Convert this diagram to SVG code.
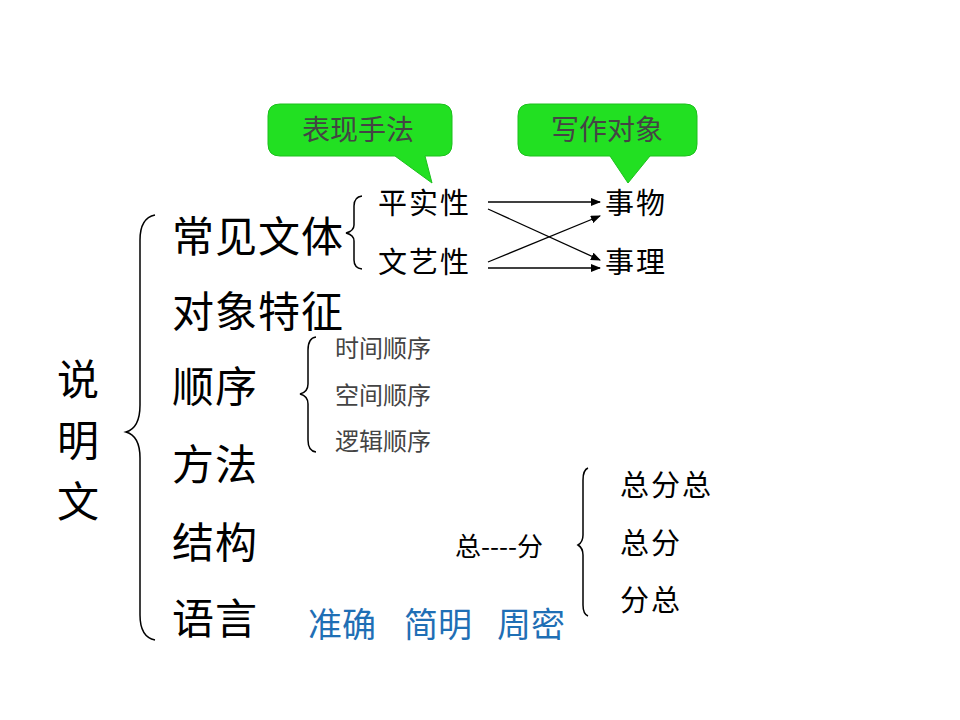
<svg xmlns="http://www.w3.org/2000/svg" width="960" height="720" viewBox="0 0 960 720">
<defs>
<style>
text{font-family:"Noto Sans CJK SC","Liberation Sans",sans-serif;fill:#000}
.big{font-size:42px;letter-spacing:1px}
.mid{font-size:29px;letter-spacing:2px}
.gray{font-size:24px;fill:#444;font-family:"Noto Sans CJK SC",serif}
.call{font-size:28px;fill:#444}
.root{font-size:42px}
.blue{font-size:34px;fill:#1f6fb5}
.brace{fill:none;stroke:#000;stroke-width:1.5}
.arr{stroke:#000;stroke-width:1.3;marker-end:url(#ah)}
.bubble{fill:#22e022;stroke:#1cc01c;stroke-width:1}
</style>
<marker id="ah" markerWidth="10" markerHeight="8" refX="9" refY="4" orient="auto" markerUnits="userSpaceOnUse"><path d="M0,0 L10,4 L0,8 z" fill="#000"/></marker>
</defs>
<rect width="960" height="720" fill="#fff"/>
<g id="callout1"><path class="bubble" d="M280,104 H440 Q452,104 452,116 V144 Q452,156 440,156 H425 L432,183 L395,156 H280 Q268,156 268,144 V116 Q268,104 280,104 z"/><text class="call" x="358" y="140" text-anchor="middle">表现手法</text></g>
<g id="callout2"><path class="bubble" d="M530,104 H685 Q697,104 697,116 V144 Q697,156 685,156 H650 L628,183 L610,156 H530 Q518,156 518,144 V116 Q518,104 530,104 z"/><text class="call" x="607" y="140" text-anchor="middle">写作对象</text></g>
<g id="root"><text class="root" x="78" y="395" text-anchor="middle">说</text><text class="root" x="78" y="456" text-anchor="middle">明</text><text class="root" x="78" y="517" text-anchor="middle">文</text></g>
<g id="brace-main"><path class="brace" d="M155,215 Q140,218 140,240 V405 Q140,428 126,432 Q140,436 140,458 V615 Q140,637 155,640" stroke-width="2"/></g>
<g id="items">
<text class="big" x="172" y="252">常见文体</text>
<text class="big" x="172" y="327">对象特征</text>
<text class="big" x="172" y="402">顺序</text>
<text class="big" x="172" y="480">方法</text>
<text class="big" x="172" y="558">结构</text>
<text class="big" x="172" y="634">语言</text>
</g>
<g id="style-group"><path class="brace" d="M362,196 Q354,197 354,206 V225 Q354,231 346,233 Q354,235 354,241 V260 Q354,268 362,269" stroke-width="1"/>
<text class="mid" x="378" y="214">平实性</text><text class="mid" x="378" y="273">文艺性</text>
<text class="mid" x="605" y="214">事物</text><text class="mid" x="605" y="273">事理</text></g>
<g id="connectors">
<line class="arr" x1="488" y1="202" x2="600" y2="202"/>
<line class="arr" x1="488" y1="209" x2="600" y2="260"/>
<line class="arr" x1="488" y1="262" x2="600" y2="216"/>
<line class="arr" x1="488" y1="268" x2="600" y2="268"/>
</g>
<g id="order-group"><path class="brace" d="M316,337 Q308,338 308,350 V384 Q308,392 300,394 Q308,396 308,404 V440 Q308,451 316,452" stroke="#444" stroke-width="1"/>
<text class="gray" x="335" y="357">时间顺序</text><text class="gray" x="335" y="404">空间顺序</text><text class="gray" x="335" y="450">逻辑顺序</text></g>
<g id="structure-group"><text x="455" y="556" font-size="26">总----分</text>
<path class="brace" d="M588,468 Q583,470 583,480 V535 Q583,542 578,545 Q583,548 583,555 V605 Q583,614 588,616" stroke-width="1"/>
<text class="mid" x="620" y="496">总分总</text><text class="mid" x="620" y="554">总分</text><text class="mid" x="620" y="611">分总</text></g>
<g id="language"><text class="blue" x="308" y="637">准确</text><text class="blue" x="404" y="637">简明</text><text class="blue" x="497" y="637">周密</text></g>
</svg>
